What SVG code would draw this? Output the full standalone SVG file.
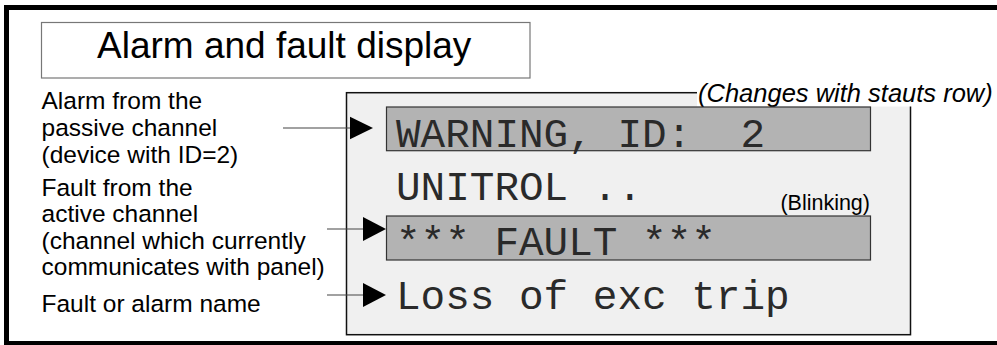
<svg xmlns="http://www.w3.org/2000/svg" width="997" height="345" viewBox="0 0 997 345">
<defs>
<style>
.sans{font-family:"Liberation Sans",Arial,sans-serif;fill:#000}
.lbl{font-size:24.5px}
.mono{font-family:"Liberation Mono","Courier New",monospace;font-size:41px;fill:#2a2a2a;white-space:pre}
.bar{fill:#b3b3b3;stroke:#333;stroke-width:1.2}
.lead{stroke:#444;stroke-width:1.2;fill:none}
.head{fill:#000}
</style>
</defs>
<rect x="0" y="0" width="997" height="345" fill="#fff"/>
<rect id="frame" x="6.5" y="7.5" width="1000" height="336" fill="none" stroke="#000" stroke-width="5"/>
<g id="title">
<rect x="41.5" y="22.5" width="488.5" height="55.5" fill="#fff" stroke="#777" stroke-width="1.2"/>
<text class="sans" x="97" y="58.3" font-size="37">Alarm and fault display</text>
</g>
<g id="labels" class="sans lbl">
<text x="41.5" y="109.3">Alarm from the</text>
<text x="41.5" y="136">passive channel</text>
<text x="41.5" y="163.3">(device with ID=2)</text>
<text x="41.5" y="195.7">Fault from the</text>
<text x="41.5" y="221.7">active channel</text>
<text x="41.5" y="249">(channel which currently</text>
<text x="41.5" y="275">communicates with panel)</text>
<text x="41.5" y="311.7">Fault or alarm name</text>
</g>
<g id="display">
<rect x="346.5" y="92.7" width="564" height="242" fill="#f0f0f0" stroke="#111" stroke-width="1.5"/>
</g>
<g id="status-note">
<rect x="697" y="78" width="300" height="28.5" fill="#fff"/>
<text class="sans" x="698" y="101.5" font-size="25.5" font-style="italic">(Changes with stauts row)</text>
</g>
<g id="warning-row">
<rect class="bar" x="386.5" y="107" width="484" height="43.7"/>
<text class="mono" x="396" y="146.7" xml:space="preserve">WARNING, ID:  2</text>
</g>
<g id="unitrol-row">
<text class="mono" x="396" y="200" xml:space="preserve">UNITROL ..</text>
</g>
<g id="blinking-note">
<text class="sans" x="870" y="210" font-size="21.5" text-anchor="end">(Blinking)</text>
</g>
<g id="fault-row">
<rect class="bar" x="386.5" y="216" width="484" height="44"/>
<text class="mono" x="396" y="255" xml:space="preserve">*** FAULT ***</text>
</g>
<g id="name-row">
<text class="mono" x="396" y="309" xml:space="preserve">Loss of exc trip</text>
</g>
<g id="connectors">
<line class="lead" x1="283" y1="128" x2="352" y2="128"/>
<polygon class="head" points="350,116.7 373,128 350,139.3"/>
<line class="lead" x1="327" y1="229" x2="365" y2="229"/>
<polygon class="head" points="363,217 386,229 363,241"/>
<line class="lead" x1="327" y1="295" x2="365" y2="295"/>
<polygon class="head" points="363,283 386,295 363,307"/>
</g>
</svg>
